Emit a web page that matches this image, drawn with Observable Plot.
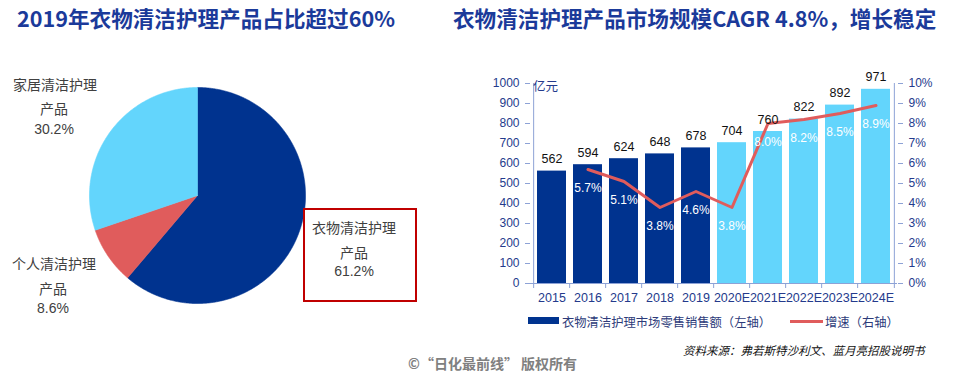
<!DOCTYPE html>
<html><head><meta charset="utf-8">
<script src="https://cdn.jsdelivr.net/npm/d3@7"></script>
<script src="https://cdn.jsdelivr.net/npm/@observablehq/plot@0.6"></script>
<style>
body{margin:0;background:#fff;}
#root{position:relative;width:957px;height:375px;overflow:hidden;background:#fff;font-family:"Liberation Sans","Noto Sans CJK SC",sans-serif;}
.abs{position:absolute;white-space:nowrap;}
.title{font-family:"Noto Sans CJK SC",sans-serif;font-size:21.6px;font-weight:bold;color:#1b3a9a;top:4px;line-height:28px;}
.plab{font-size:14px;color:#404040;text-align:center;line-height:14px;width:140px;}
.leg{font-family:"Noto Sans CJK SC",sans-serif;font-size:12.3px;color:#2d3b7a;line-height:14px;}
</style></head><body><div id="root"></div>
<script>
// ---- data ----
const pieNames = ["衣物清洁护理产品", "个人清洁护理产品", "家居清洁护理产品"];
const pieShares = [61.2, 8.6, 30.2];
const years = ["2015","2016","2017","2018","2019","2020E","2021E","2022E","2023E","2024E"];
const sales = [562, 594, 624, 648, 678, 704, 760, 822, 892, 971];
const growthYears = ["2016","2017","2018","2019","2020E","2021E","2022E","2023E","2024E"];
const growth = [5.7, 5.1, 3.8, 4.6, 3.8, 8.0, 8.2, 8.5, 8.9];
const yTicks = [0,100,200,300,400,500,600,700,800,900,1000];
const pctTicks = [0,1,2,3,4,5,6,7,8,9,10];

// ---- style ----
const NAVY = "#00338f", LIGHT = "#63d5fc", RED = "#e05c5c";
const AXIS = "#8da2d6", TICKTXT = "#243a8c";
const pieColors = [NAVY, RED, LIGHT];

const root = document.getElementById("root");
function div(cls, text, css){ const d=document.createElement("div"); d.className="abs "+cls; d.textContent=text; Object.assign(d.style, css); root.appendChild(d); return d; }

// titles
div("title","2019年衣物清洁护理产品占比超过60%",{left:"17px"});
div("title","衣物清洁护理产品市场规模CAGR 4.8%，增长稳定",{left:"453px"});

// ---- pie ----
const arcs = d3.pie().sort(null)(pieShares);
const piePts = arcs.map((a,i)=>{
  const n = Math.max(2, Math.ceil((a.endAngle-a.startAngle)/(Math.PI/360)));
  const pts = [{x:0,y:0}];
  for(let j=0;j<=n;j++){ const t=a.startAngle+(a.endAngle-a.startAngle)*j/n; pts.push({x:Math.sin(t), y:Math.cos(t)}); }
  pts.push({x:0,y:0});
  return pts;
});
const pie = Plot.plot({
  width:240, height:240, margin:0,
  style:{background:"transparent"},
  x:{domain:[-1.111,1.111], axis:null},
  y:{domain:[-1.111,1.111], axis:null},
  marks: piePts.map((pts,i)=>Plot.line(pts,{x:"x", y:"y", fill:pieColors[i], stroke:pieColors[i], strokeWidth:0.6}))
});
Object.assign(pie.style,{position:"absolute", left:"77px", top:"75px"});
root.appendChild(pie);

// pie labels
function plab(text, cx, cy){ div("plab", text, {left:(cx-70)+"px", top:(cy-7)+"px"}); }
const short = n => n.replace("产品","");
plab(short(pieNames[2]), 55, 85); plab("产品", 54, 109); plab(pieShares[2].toFixed(1)+"%", 54, 129);
plab(short(pieNames[1]), 54, 264); plab("产品", 53, 289); plab(pieShares[1].toFixed(1)+"%", 53, 308);
const box = document.createElement("div");
Object.assign(box.style,{position:"absolute", left:"303px", top:"208px", width:"110px", height:"90px", border:"2px solid #c00000"});
root.appendChild(box);
plab(short(pieNames[0]), 354, 228); plab("产品", 354, 253); plab(pieShares[0].toFixed(1)+"%", 354, 271);

// ---- bar + line ----
const bars = years.map((y,i)=>({year:y, value:sales[i], forecast:y.endsWith("E")}));
const rates = growthYears.map((y,i)=>({year:y, rate:growth[i]}));
const W=477, H=253, ML=50, MR=60, MT=23, MB=30;
const step = (W-ML-MR)/years.length;
const chart = Plot.plot({
  width:W, height:H, marginLeft:ML, marginRight:MR, marginTop:MT, marginBottom:MB,
  style:{fontFamily:'"Liberation Sans","Noto Sans CJK SC",sans-serif', fontSize:"12px", background:"transparent", overflow:"visible"},
  x:{type:"band", domain:years, paddingInner:0.2, paddingOuter:0.1, label:null},
  y:{domain:[0,1000], label:null},
  color:{type:"ordinal", domain:[false,true], range:[NAVY, LIGHT]},
  marks:[
    Plot.barY(bars,{x:"year", y:"value", fill:"forecast"}),
    Plot.ruleY([0],{stroke:AXIS}),
    Plot.ruleX([years[0]],{y1:0, y2:1000, dx:-step/2, stroke:AXIS}),
    Plot.ruleX([years[years.length-1]],{y1:0, y2:1000, dx:step/2, stroke:AXIS}),
    Plot.ruleX(years,{y1:0, y2:-25, dx:-step/2, stroke:AXIS}),
    Plot.ruleX([years[years.length-1]],{y1:0, y2:-25, dx:step/2, stroke:AXIS}),
    Plot.axisY({ticks:yTicks, tickFormat:d=>String(d), tickSize:5, tickPadding:6, stroke:AXIS, fill:TICKTXT, label:null, fontSize:12}),
    Plot.axisY({anchor:"right", ticks:pctTicks.map(p=>p*100), tickFormat:d=>(d/100)+"%", tickSize:5, tickPadding:6, stroke:AXIS, fill:TICKTXT, label:null, fontSize:12}),
    Plot.axisX({tickSize:0, tickPadding:10, fill:TICKTXT, label:null, fontSize:12.5}),
    Plot.line(rates,{x:"year", y:d=>d.rate*100, stroke:RED, strokeWidth:3}),
    Plot.text(bars,{x:"year", y:"value", text:d=>String(d.value), dy:-12, fill:"#111", fontSize:12.5}),
    Plot.text(rates,{x:"year", y:d=>d.rate*100, text:d=>d.rate.toFixed(1)+"%", dy:19, fill:"white", fontSize:12})
  ]
});
Object.assign(chart.style,{position:"absolute", left:"480px", top:"60px"});
root.appendChild(chart);

div("leg","亿元",{left:"533px", top:"79px", color:TICKTXT, fontSize:"12.5px"});

// legend
const sw1 = document.createElement("div");
Object.assign(sw1.style,{position:"absolute", left:"528px", top:"317px", width:"31px", height:"7px", background:NAVY});
root.appendChild(sw1);
div("leg","衣物清洁护理市场零售销售额（左轴）",{left:"562px", top:"315px"});
const sw2 = document.createElement("div");
Object.assign(sw2.style,{position:"absolute", left:"790px", top:"320px", width:"33px", height:"3px", background:RED});
root.appendChild(sw2);
div("leg","增速（右轴）",{left:"825px", top:"315px"});

// source & copyright
div("leg","资料来源：弗若斯特沙利文、蓝月亮招股说明书",{left:"683px", top:"343px", fontSize:"11.5px", fontStyle:"italic", color:"#111"});
div("leg","©“日化最前线” 版权所有",{left:"408px", top:"355px", fontSize:"14px", fontWeight:"bold", color:"#808080", lineHeight:"16px"});
</script></body></html>
